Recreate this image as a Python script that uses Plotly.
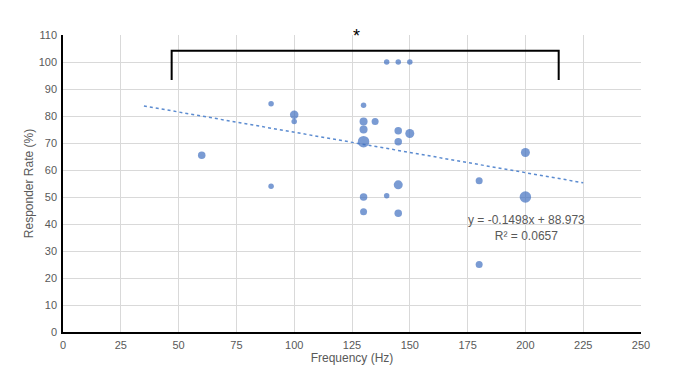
import plotly.graph_objects as go

# Data
freq_hz = [60, 90, 90, 100, 100, 130, 130, 130, 130, 135, 130, 130, 140,
           145, 145, 150, 145, 145, 140, 145, 150, 180, 180, 200, 200]
responder_rate = [65.5, 84.5, 54, 80.5, 78, 84, 78, 75, 70.5, 78, 50, 44.5, 50.5,
                  74.5, 70.5, 73.5, 54.5, 44, 100, 100, 100, 56, 25, 66.5, 50]
marker_size = [7.5, 5.5, 5.5, 8.5, 5.5, 5.5, 8, 8, 11.5, 7, 7.5, 7, 5.5,
               7.5, 7.5, 9, 9, 7.5, 5.5, 5.5, 5.5, 7, 7, 9, 11.5]

# Linear trendline as displayed on the chart
trend_slope = -0.1498
trend_intercept = 88.973
trend_r2 = 0.0657
trend_x = [35, 225]
trend_y = [trend_slope * x + trend_intercept for x in trend_x]

x_ticks = [0, 25, 50, 75, 100, 125, 150, 175, 200, 225, 250]
y_ticks = [0, 10, 20, 30, 40, 50, 60, 70, 80, 90, 100, 110]

blue = "#4271C0"
gray_text = "#595959"
font_family = "Liberation Sans, Arial, sans-serif"

fig = go.Figure()
fig.add_trace(go.Scatter(
    x=trend_x, y=trend_y, mode="lines",
    line=dict(color="#5B8BD0", width=1.5, dash="dot"),
    hoverinfo="skip", showlegend=False,
))
fig.add_trace(go.Scatter(
    x=freq_hz, y=responder_rate, mode="markers",
    marker=dict(color=blue, size=marker_size, line=dict(width=0)),
    showlegend=False,
))

# Significance bracket
fig.add_shape(type="path", path="M 47 93.3 L 47 104.2 L 214.4 104.2 L 214.4 93.3",
              xref="x", yref="y", line=dict(color="black", width=2))
fig.add_annotation(x=127, y=109.6, xref="x", yref="y", text="*", showarrow=False,
                   font=dict(family=font_family, size=18, color="black"))

# Trendline equation
fig.add_annotation(x=200.5, y=38.7, xref="x", yref="y",
                   text=f"y = {trend_slope}x + {trend_intercept}<br>R² = {trend_r2}",
                   showarrow=False, align="center",
                   font=dict(family=font_family, size=12, color=gray_text))

fig.update_layout(
    width=685, height=367,
    margin=dict(l=63, r=44, t=35, b=35, autoexpand=False),
    paper_bgcolor="white", plot_bgcolor="white",
    font=dict(family=font_family, size=11, color=gray_text),
    xaxis=dict(
        range=[0, 250], tickvals=x_ticks, ticks="", showgrid=True,
        gridcolor="#D9D9D9", gridwidth=1, zeroline=False, automargin=False,
        showline=True, linecolor="black", linewidth=1.5, ticklabelstandoff=2,
        title=dict(text="Frequency (Hz)", font=dict(size=12, color=gray_text), standoff=4),
        tickfont=dict(size=11, color=gray_text),
    ),
    yaxis=dict(
        range=[0, 110], tickvals=y_ticks, ticks="", showgrid=True,
        gridcolor="#D9D9D9", gridwidth=1, zeroline=False, automargin=False,
        showline=True, linecolor="black", linewidth=1.5, ticklabelstandoff=2,
        title=dict(text="Responder Rate (%)", font=dict(size=12, color=gray_text), standoff=2),
        tickfont=dict(size=11, color=gray_text),
    ),
)

fig.write_html("out.html", config={"displayModeBar": False},
               post_script="document.body.style.margin='0';document.body.style.overflow='hidden';")
